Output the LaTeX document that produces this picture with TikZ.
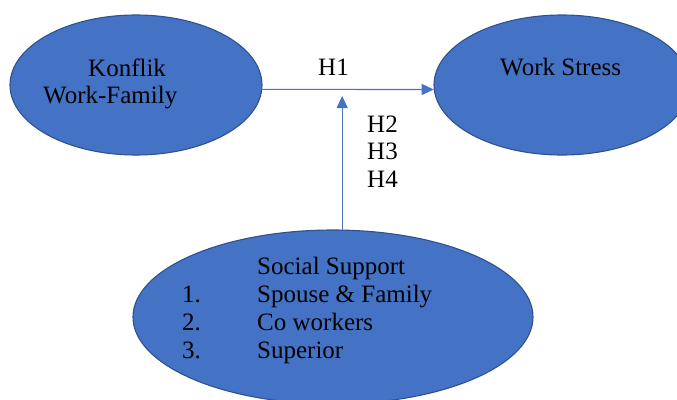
\documentclass[tikz,border=0pt]{standalone}
\usepackage{fontspec}
\setmainfont{Liberation Serif}
\usetikzlibrary{shapes.geometric,arrows.meta}
\definecolor{fillblue}{HTML}{4472C4}
\definecolor{edgeblue}{HTML}{2F528F}
\definecolor{linkblue}{HTML}{4472C4}
\tikzset{
  oval/.style={ellipse, draw=edgeblue, line width=1.1pt, fill=fillblue, inner sep=0pt},
  txt/.style={anchor=base west, inner sep=0pt, font=\fontsize{25}{28}\selectfont, text=black},
  arr/.style={draw=linkblue, line width=1.1pt, -{Triangle[length=12pt,width=11pt]}}
}
\begin{document}
\begin{tikzpicture}[x=1pt,y=-1pt]
\useasboundingbox (0,0) rectangle (677,399);
\clip (0,0) rectangle (677,399);
\node[oval, minimum width=252pt, minimum height=140pt] (kf) at (136,85) {};
\node[oval, minimum width=256pt, minimum height=140pt] (ws) at (562,85) {};
\node[oval, minimum width=400pt, minimum height=174pt] (ss) at (333,317) {};
\node[txt] (t1) at (88,76) {Konflik};
\node[txt] (t2) at (43,103) {Work-Family};
\node[txt] (t3) at (500,75) {Work Stress};
\node[txt] (h1) at (318,75) {H1};
\node[txt] (h2) at (367,132) {H2};
\node[txt] (h3) at (367,159) {H3};
\node[txt] (h4) at (367,187) {H4};
\node[txt] (s0) at (257,274) {Social Support};
\node[txt] (n1) at (182,302) {1.};
\node[txt] (s1) at (257,302) {Spouse \& Family};
\node[txt] (n2) at (182,330) {2.};
\node[txt] (s2) at (257,330) {Co workers};
\node[txt] (n3) at (182,358) {3.};
\node[txt] (s3) at (257,358) {Superior};
\coordinate (tip) at (342,96);
\draw[arr] (kf.-2.74) -- (ws.182.7);
\draw[arr] (ss.84) -- (ss.84 |- tip);
\end{tikzpicture}
\end{document}
